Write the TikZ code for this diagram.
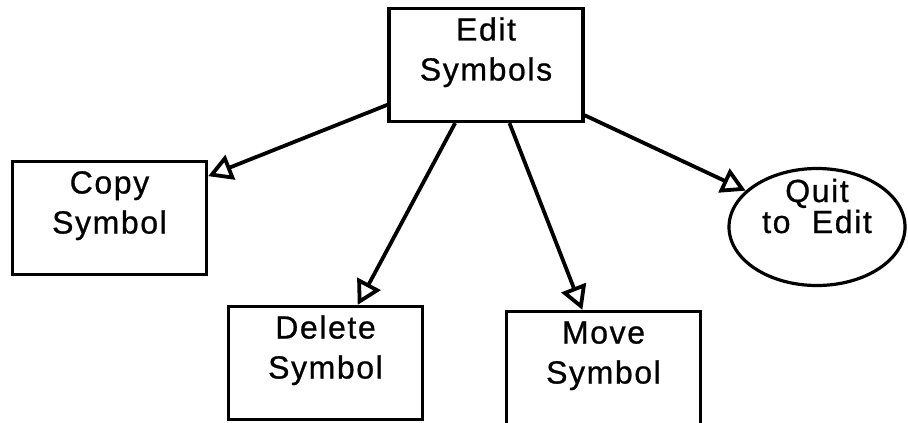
\documentclass[tikz,border=0pt]{standalone}
\usepackage{fontspec}
\setmainfont{Liberation Sans}[LetterSpace=5,FakeBold=0.8]
\usepackage{tikz}
\usetikzlibrary{arrows.meta}
\usetikzlibrary{shapes.geometric}
\tikzstyle{cmd}=[draw,line width=1.6pt,rectangle,minimum width=97pt,minimum height=56.5pt,
  inner ysep=0pt,text width=86pt,align=center,text height=16pt,text depth=40.5pt,
  font=\fontsize{16}{20}\selectfont]
\tikzstyle{quit}=[draw,line width=1.6pt,ellipse,minimum width=88pt,minimum height=58.5pt,
  inner sep=0pt,text width=62pt,align=center,text height=0pt,text depth=25pt,
  font=\fontsize{16}{15.5}\selectfont]
\tikzstyle{gohead}=[>/.tip={Triangle[open,length=12pt,width=13pt]}]
\tikzstyle{go}=[line width=1.9pt,gohead,->]

\begin{document}
\begin{tikzpicture}[x=0.5pt,y=-0.5pt]
	\useasboundingbox (0,0) rectangle (908,422);
	\node[cmd]  (edit)   at (486,65)    {Edit\\Symbols};
	\node[cmd]  (copy)   at (109.5,218) {Copy\\Symbol};
	\node[cmd]  (delete) at (325.5,363) {Delete\\Symbol};
	\node[cmd]  (move)   at (603.5,368) {Move\\Symbol};
	\node[quit] (quit)   at (817,227)   {Quit\\to~ Edit};
	\draw[go] (edit.202) -- (copy.23);
	\draw[go] (edit.242) -- (delete.61);
	\draw[go] (edit.292) -- (move.110);
	\draw[go] (edit.333) -- (quit.153);
\end{tikzpicture}
\end{document}
